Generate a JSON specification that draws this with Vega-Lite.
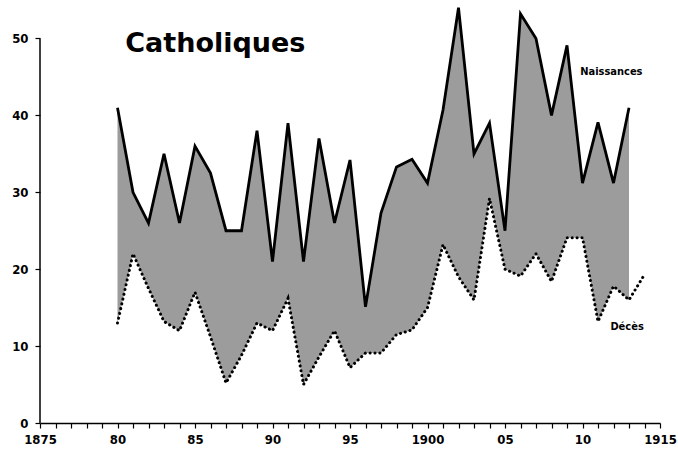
{
  "$schema": "https://vega.github.io/schema/vega-lite/v6.json",
  "autosize": "none",
  "width": 620,
  "height": 423,
  "padding": {"left": 40, "top": 0, "right": 18, "bottom": 30},
  "background": "white",
  "config": {"view": {"stroke": null}},
  "data": {"values": [
    {"year": 1880, "naissances": 41, "deces": 13},
    {"year": 1881, "naissances": 30, "deces": 22},
    {"year": 1882, "naissances": 26, "deces": 17.5},
    {"year": 1883, "naissances": 35, "deces": 13.2},
    {"year": 1884, "naissances": 26, "deces": 12},
    {"year": 1885, "naissances": 36, "deces": 17},
    {"year": 1886, "naissances": 32.5, "deces": 11.2},
    {"year": 1887, "naissances": 25, "deces": 5.2},
    {"year": 1888, "naissances": 25, "deces": 8.8},
    {"year": 1889, "naissances": 38, "deces": 13},
    {"year": 1890, "naissances": 21, "deces": 12},
    {"year": 1891, "naissances": 39, "deces": 16.2},
    {"year": 1892, "naissances": 21, "deces": 5},
    {"year": 1893, "naissances": 37, "deces": 8.6},
    {"year": 1894, "naissances": 26, "deces": 12},
    {"year": 1895, "naissances": 34.2, "deces": 7.2},
    {"year": 1896, "naissances": 15.1, "deces": 9.1},
    {"year": 1897, "naissances": 27.3, "deces": 9.1},
    {"year": 1898, "naissances": 33.3, "deces": 11.5},
    {"year": 1899, "naissances": 34.3, "deces": 12.1},
    {"year": 1900, "naissances": 31.2, "deces": 15},
    {"year": 1901, "naissances": 40.7, "deces": 23.2},
    {"year": 1902, "naissances": 54, "deces": 19},
    {"year": 1903, "naissances": 35, "deces": 16},
    {"year": 1904, "naissances": 39, "deces": 29.2},
    {"year": 1905, "naissances": 25, "deces": 20},
    {"year": 1906, "naissances": 53.2, "deces": 19.1},
    {"year": 1907, "naissances": 50, "deces": 22},
    {"year": 1908, "naissances": 40, "deces": 18.4},
    {"year": 1909, "naissances": 49.1, "deces": 24.1},
    {"year": 1910, "naissances": 31.2, "deces": 24.1},
    {"year": 1911, "naissances": 39.1, "deces": 13.2},
    {"year": 1912, "naissances": 31.2, "deces": 17.8},
    {"year": 1913, "naissances": 41, "deces": 16},
    {"year": 1914, "naissances": null, "deces": 19.3}
  ]},
  "layer": [
    {
      "transform": [{"filter": "datum.naissances != null"}],
      "mark": {"type": "area", "fill": "#9c9c9c", "stroke": null},
      "encoding": {
        "x": {"field": "year", "type": "quantitative", "title": null,
          "scale": {"domain": [1875, 1915], "nice": false, "zero": false},
          "axis": {
            "values": [1875,1876,1877,1878,1879,1880,1881,1882,1883,1884,1885,1886,1887,1888,1889,1890,1891,1892,1893,1894,1895,1896,1897,1898,1899,1900,1901,1902,1903,1904,1905,1906,1907,1908,1909,1910,1911,1912,1913,1914,1915],
            "tickCount": 100,
            "labelExpr": "(datum.value == 1875 || datum.value == 1900 || datum.value == 1915) ? ('' + datum.value) : (datum.value % 5 == 0 ? substring('' + datum.value, 2, 4) : '')",
            "labelOverlap": false, "labelFlush": false, "labelBound": false,
            "grid": false, "domainColor": "black", "domainWidth": 1.5,
            "tickColor": "black", "tickSize": 5, "tickWidth": 1.2,
            "labelFont": "DejaVu Sans Condensed", "labelFontWeight": "bold",
            "labelFontSize": 13, "labelColor": "black", "labelPadding": 5
          }
        },
        "y": {"field": "naissances", "type": "quantitative", "title": null,
          "scale": {"domain": [0, 55], "nice": false},
          "axis": {
            "values": [0, 10, 20, 30, 40, 50],
            "tickCount": 20,
            "domain": false, "grid": false,
            "tickColor": "black", "tickSize": 5, "tickWidth": 1.2,
            "labelFont": "DejaVu Sans Condensed", "labelFontWeight": "bold",
            "labelFontSize": 13, "labelColor": "black", "labelPadding": 7
          }
        },
        "y2": {"field": "deces"}
      }
    },
    {
      "transform": [{"filter": "datum.naissances != null"}],
      "mark": {"type": "line", "color": "black", "strokeWidth": 2.8, "strokeJoin": "miter"},
      "encoding": {
        "x": {"field": "year", "type": "quantitative", "title": null},
        "y": {"field": "naissances", "type": "quantitative", "title": null}
      }
    },
    {
      "mark": {"type": "line", "color": "black", "strokeWidth": 3, "strokeDash": [0.1, 4.8], "strokeCap": "round"},
      "encoding": {
        "x": {"field": "year", "type": "quantitative", "title": null},
        "y": {"field": "deces", "type": "quantitative", "title": null}
      }
    },
    {
      "data": {"values": [{"label": "axis"}]},
      "mark": {"type": "rule", "color": "black", "strokeWidth": 1.5},
      "encoding": {
        "x": {"datum": 1875},
        "y": {"datum": 0},
        "y2": {"datum": 50}
      }
    },
    {
      "data": {"values": [{"label": "Catholiques"}]},
      "mark": {"type": "text", "align": "left", "baseline": "alphabetic", "font": "DejaVu Sans", "fontWeight": "bold", "fontSize": 27, "color": "black"},
      "encoding": {
        "x": {"datum": 1880.5},
        "y": {"datum": 48.2},
        "text": {"field": "label"}
      }
    },
    {
      "data": {"values": [{"label": "Naissances", "lx": 1909.85, "ly": 45.3}, {"label": "Décès", "lx": 1911.8, "ly": 12.1}]},
      "mark": {"type": "text", "align": "left", "baseline": "alphabetic", "font": "DejaVu Sans Condensed", "fontWeight": "bold", "fontSize": 11, "color": "black"},
      "encoding": {
        "x": {"field": "lx", "type": "quantitative", "title": null},
        "y": {"field": "ly", "type": "quantitative", "title": null},
        "text": {"field": "label"}
      }
    }
  ]
}
